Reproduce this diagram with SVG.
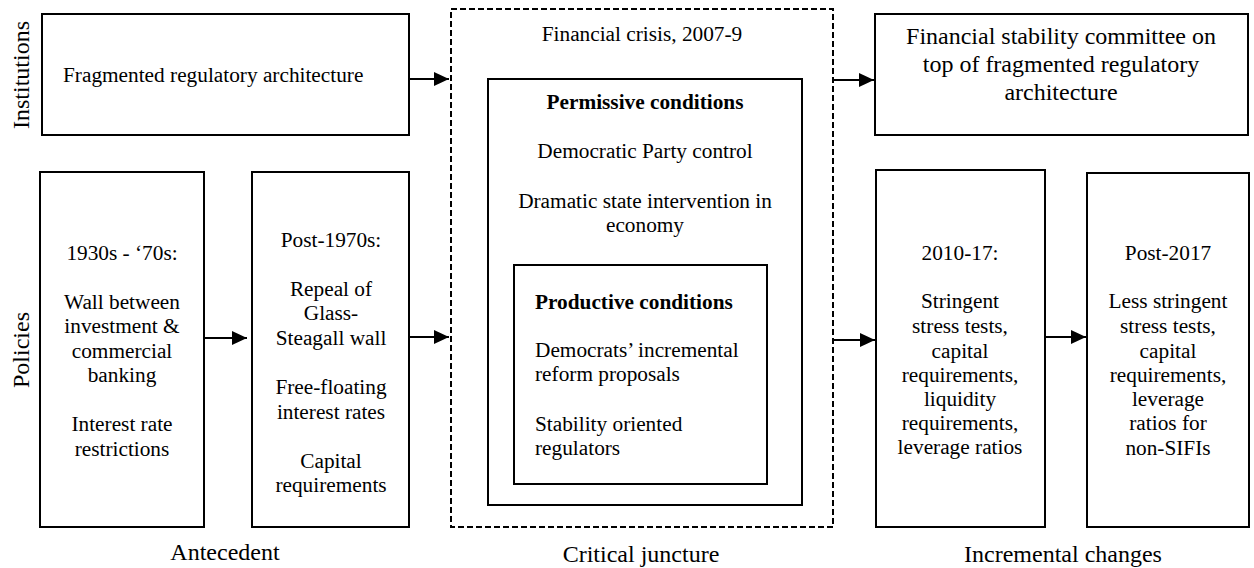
<svg xmlns="http://www.w3.org/2000/svg" width="1254" height="568" viewBox="0 0 1254 568">
<style>
text{font-family:"Liberation Serif","Times New Roman",serif;font-size:21.3px;fill:#000}
.c{text-anchor:middle}
.b{font-weight:bold}
.lg{font-size:24px}
.box{fill:#fff;stroke:#000;stroke-width:2}
.dash{fill:none;stroke:#000;stroke-width:2;stroke-dasharray:6 3}
.arr{stroke:#000;stroke-width:2;fill:none;marker-end:url(#ah)}
</style>
<defs>
<marker id="ah" markerUnits="userSpaceOnUse" markerWidth="15" markerHeight="14" refX="15" refY="7" orient="auto">
<path d="M0,0 L15,7 L0,14 z" fill="#000"/>
</marker>
</defs>
<g id="row-labels">
<text class="lg c" transform="translate(29,75) rotate(-90)">Institutions</text>
<text class="lg c" transform="translate(29,350) rotate(-90)">Policies</text>
</g>
<g id="phase-labels">
<text class="lg c" x="225" y="560">Antecedent</text>
<text class="lg c" x="641" y="562">Critical juncture</text>
<text class="lg c" x="1063" y="562">Incremental changes</text>
</g>
<g id="inst-before">
<rect class="box" x="42" y="14" width="367" height="121"/>
<text x="63" y="82">Fragmented regulatory architecture</text>
</g>
<g id="pol-1930s">
<rect class="box" x="40" y="172" width="164" height="355"/>
<text class="c" x="122" y="260">1930s - ‘70s:</text>
<text class="c" x="122" y="309">Wall between</text>
<text class="c" x="122" y="333">investment &amp;</text>
<text class="c" x="122" y="358">commercial</text>
<text class="c" x="122" y="382">banking</text>
<text class="c" x="122" y="431">Interest rate</text>
<text class="c" x="122" y="456">restrictions</text>
</g>
<g id="pol-post1970s">
<rect class="box" x="252" y="172" width="157" height="355"/>
<text class="c" x="331" y="247">Post-1970s:</text>
<text class="c" x="331" y="296">Repeal of</text>
<text class="c" x="331" y="320">Glass-</text>
<text class="c" x="331" y="345">Steagall wall</text>
<text class="c" x="331" y="394">Free-floating</text>
<text class="c" x="331" y="419">interest rates</text>
<text class="c" x="331" y="468">Capital</text>
<text class="c" x="331" y="492">requirements</text>
</g>
<g id="crisis">
<rect class="dash" x="451" y="9" width="382" height="518"/>
<text class="c" x="642" y="41">Financial crisis, 2007-9</text>
</g>
<g id="permissive">
<rect class="box" x="488" y="79" width="314" height="426"/>
<text class="c b" x="645" y="109">Permissive conditions</text>
<text class="c" x="645" y="158">Democratic Party control</text>
<text class="c" x="645" y="208">Dramatic state intervention in</text>
<text class="c" x="645" y="232">economy</text>
</g>
<g id="productive">
<rect class="box" x="514" y="265" width="253" height="219"/>
<text class="b" x="535" y="309">Productive conditions</text>
<text x="535" y="357">Democrats’ incremental</text>
<text x="535" y="381">reform proposals</text>
<text x="535" y="431">Stability oriented</text>
<text x="535" y="455">regulators</text>
</g>
<g id="inst-after">
<rect class="box" x="875" y="14" width="373" height="121"/>
<text class="lg c" x="1061" y="44">Financial stability committee on</text>
<text class="lg c" x="1061" y="72">top of fragmented regulatory</text>
<text class="lg c" x="1061" y="100">architecture</text>
</g>
<g id="pol-2010-17">
<rect class="box" x="876" y="170" width="169" height="357"/>
<text class="c" x="960" y="260">2010-17:</text>
<text class="c" x="960" y="308">Stringent</text>
<text class="c" x="960" y="333">stress tests,</text>
<text class="c" x="960" y="358">capital</text>
<text class="c" x="960" y="382">requirements,</text>
<text class="c" x="960" y="406">liquidity</text>
<text class="c" x="960" y="430">requirements,</text>
<text class="c" x="960" y="454">leverage ratios</text>
</g>
<g id="pol-post2017">
<rect class="box" x="1087" y="173" width="162" height="354"/>
<text class="c" x="1168" y="260">Post-2017</text>
<text class="c" x="1168" y="308">Less stringent</text>
<text class="c" x="1168" y="333">stress tests,</text>
<text class="c" x="1168" y="358">capital</text>
<text class="c" x="1168" y="382">requirements,</text>
<text class="c" x="1168" y="406">leverage</text>
<text class="c" x="1168" y="430">ratios for</text>
<text class="c" x="1168" y="455">non-SIFIs</text>
</g>
<g id="connectors">
<line class="arr" x1="409" y1="79" x2="449" y2="79"/>
<line class="arr" x1="204" y1="338" x2="247" y2="338"/>
<line class="arr" x1="409" y1="337" x2="449" y2="337"/>
<line class="arr" x1="833" y1="80" x2="874" y2="80"/>
<line class="arr" x1="833" y1="340" x2="875" y2="340"/>
<line class="arr" x1="1045" y1="337" x2="1086" y2="337"/>
</g>
</svg>
